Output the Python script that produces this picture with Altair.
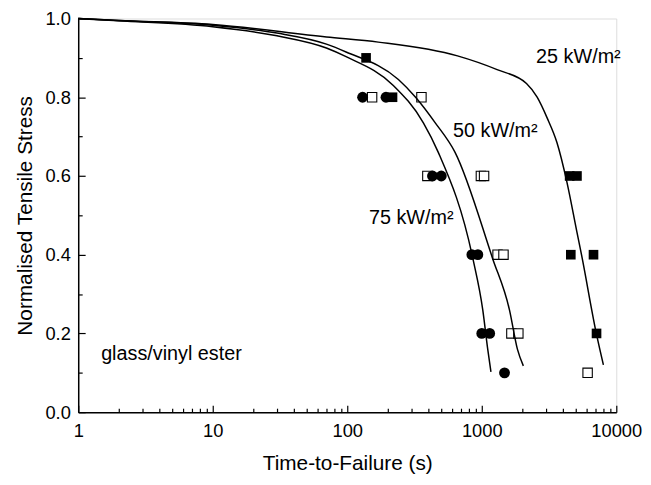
import altair as alt
import pandas as pd

FONT = "Liberation Sans"

# ---- fitted curves ----
t25 = [1, 2, 10, 70, 170, 660, 1300, 2150, 2580, 3060, 3620, 4290, 5080, 5530, 7130, 8020]
s25 = [1.0, 0.995, 0.985, 0.953, 0.94, 0.905, 0.87, 0.835, 0.80, 0.7475, 0.685, 0.585, 0.46, 0.3975, 0.1975, 0.12]

t50 = [1, 2, 10, 30, 70, 98, 240, 322, 451, 633, 1205, 1606, 1840, 2037]
s50 = [1.0, 0.995, 0.983, 0.963, 0.935, 0.915, 0.845, 0.8, 0.735, 0.66, 0.39, 0.26, 0.16, 0.1175]

t75 = [1, 2, 10, 30, 70, 98, 220, 368, 475, 859, 1017, 1107, 1170]
s75 = [1.0, 0.994, 0.979, 0.956, 0.925, 0.903, 0.83, 0.735, 0.66, 0.39, 0.26, 0.16, 0.1025]

# ---- measured points ----
t_fsq = [138, 217, 4500, 5100, 4590, 6770, 7130]
s_fsq = [0.9, 0.8, 0.6, 0.6, 0.4, 0.4, 0.2]

t_osq = [153, 356, 394, 985, 1040, 1310, 1450, 1660, 1870, 6120]
s_osq = [0.8, 0.8, 0.6, 0.6, 0.6, 0.4, 0.4, 0.2, 0.2, 0.1]

t_cir = [130, 194, 430, 500, 844, 935, 1000, 1145, 1476]
s_cir = [0.8, 0.8, 0.6, 0.6, 0.4, 0.4, 0.2, 0.2, 0.1]

# ---- annotations ----
ann_text = ["25 kW/m\u00b2", "50 kW/m\u00b2", "75 kW/m\u00b2", "glass/vinyl ester"]
ann_t = [2535, 612, 145, 1.48]
ann_s = [0.9025, 0.715, 0.4925, 0.1475]

x_major = [1, 10, 100, 1000, 10000]
x_minor = [m * d for d in [1, 10, 100, 1000] for m in range(2, 10)]
y_major = [0.0, 0.2, 0.4, 0.6, 0.8, 1.0]
y_all = [round(i * 0.1, 1) for i in range(11)]

curves = pd.concat([
    pd.DataFrame({"t": t25, "s": s25, "series": "25"}),
    pd.DataFrame({"t": t50, "s": s50, "series": "50"}),
    pd.DataFrame({"t": t75, "s": s75, "series": "75"}),
])
fsq = pd.DataFrame({"t": t_fsq, "s": s_fsq})
osq = pd.DataFrame({"t": t_osq, "s": s_osq})
cir = pd.DataFrame({"t": t_cir, "s": s_cir})
ann = pd.DataFrame({"label": ann_text, "t": ann_t, "s": ann_s})

W, H = 544, 398

xs = alt.Scale(type="log", domain=[1, 10000], nice=False)
ys = alt.Scale(domain=[0, 1.0], nice=False, zero=False)

X = lambda ax=None: alt.X("t:Q", scale=xs, axis=ax)
Y = lambda ax=None: alt.Y("s:Q", scale=ys, axis=ax)

# axis layer: labels + domain (bottom/left)
axis_main = alt.Chart(curves).mark_point(opacity=0).encode(
    x=alt.X("t:Q", scale=xs, axis=alt.Axis(
        orient="bottom", values=x_major, format="d", ticks=False, tickSize=0,
        domainColor="black", domainWidth=1.5, grid=False, labelFlush=False,
        labelFont=FONT, labelFontSize=18.5, labelColor="black", labelPadding=10,
        title="Time-to-Failure (s)", titleFont=FONT, titleFontSize=21,
        titleFontWeight="normal", titleColor="black", titlePadding=12)),
    y=alt.Y("s:Q", scale=ys, axis=alt.Axis(
        orient="left", values=y_major, format=".1f", ticks=False, tickSize=0,
        domainColor="black", domainWidth=1.5, grid=False, labelFlush=False,
        labelFont=FONT, labelFontSize=18.5, labelColor="black", labelPadding=8,
        title="Normalised Tensile Stress", titleFont=FONT, titleFontSize=21,
        titleFontWeight="normal", titleColor="black", titlePadding=10)),
)

# axis layer: inward ticks (top/right axes shifted onto bottom/left edges)
axis_ticks = alt.Chart(curves).mark_point(opacity=0).encode(
    x=alt.X("t:Q", scale=xs, axis=alt.Axis(
        orient="top", offset=-H, values=x_major + x_minor, labels=False,
        domain=False, grid=False, title=None, tickColor="black", tickWidth=1.2,
        tickSize={"condition": {"test": "indexof([1,10,100,1000,10000], datum.value) >= 0", "value": 7}, "value": 4})),
    y=alt.Y("s:Q", scale=ys, axis=alt.Axis(
        orient="right", offset=-W, values=y_all, labels=False,
        domain=False, grid=False, title=None, tickColor="black", tickWidth=1.2,
        tickSize={"condition": {"test": "abs(datum.value*5 - round(datum.value*5)) < 0.001", "value": 7}, "value": 4})),
)

open_sq = alt.Chart(osq).mark_point(shape="square", size=90, filled=True, fill="white",
                                     stroke="black", strokeWidth=1.1, opacity=1).encode(x=X(), y=Y())
lines = alt.Chart(curves).mark_line(color="black", strokeWidth=1.5, interpolate="monotone").encode(
    x=X(), y=Y(), detail="series:N")
fill_sq = alt.Chart(fsq).mark_point(shape="square", size=95, filled=True, color="black", opacity=1).encode(x=X(), y=Y())
circles = alt.Chart(cir).mark_point(shape="circle", size=120, filled=True, color="black", opacity=1).encode(x=X(), y=Y())
texts = alt.Chart(ann).mark_text(align="left", baseline="middle", font=FONT, fontSize=20, color="black").encode(
    x=X(), y=Y(), text="label:N")

chart = alt.layer(axis_main, axis_ticks, open_sq, lines, fill_sq, circles, texts).resolve_axis(
    x="independent", y="independent"
).properties(
    width=W, height=H,
    autosize=alt.AutoSizeParams(type="none"),
    padding={"left": 71, "top": 8, "right": 27, "bottom": 70},
).configure_view(stroke=None).configure(background="white")

chart.save("out.html", embed_options={"renderer": "svg", "actions": False})
